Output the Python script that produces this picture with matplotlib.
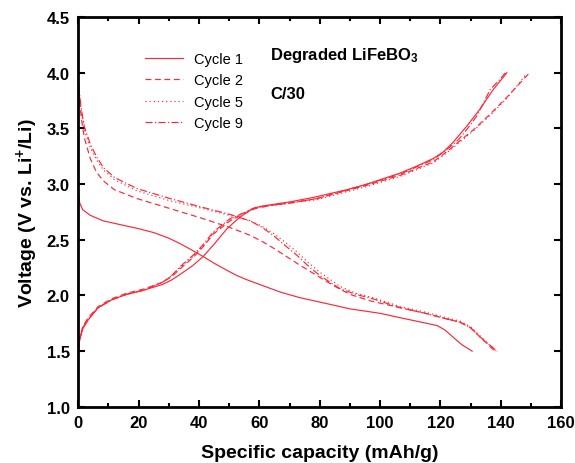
import numpy as np
import matplotlib
matplotlib.use("Agg")
import matplotlib.pyplot as plt
from matplotlib.ticker import MultipleLocator, FormatStrFormatter

plt.rcParams['font.family'] = ['Liberation Sans', 'DejaVu Sans']
plt.rcParams['mathtext.fontset'] = 'custom'
plt.rcParams['mathtext.rm'] = 'Liberation Sans:bold'
plt.rcParams['mathtext.bf'] = 'Liberation Sans:bold'
plt.rcParams['mathtext.it'] = 'Liberation Sans:italic:bold'

# ---- data (capacity mAh/g, voltage V) ----
c1_dis_x = [0, 0.5, 1.5, 4, 8.3, 15, 20, 25, 30, 33.8, 37.5, 41.4, 45, 49, 52.5, 56, 62, 67, 73.5, 83.5, 90, 100, 106.7, 112, 118.9, 121.5, 124, 127, 130.5]
c1_dis_v = [2.95, 2.83, 2.77, 2.72, 2.67, 2.63, 2.60, 2.565, 2.515, 2.465, 2.41, 2.35, 2.29, 2.23, 2.18, 2.14, 2.08, 2.03, 1.98, 1.92, 1.88, 1.84, 1.80, 1.77, 1.73, 1.69, 1.63, 1.56, 1.50]
c1_chg_x = [0, 0.5, 1.5, 3.3, 6.6, 11, 16, 22, 28, 31, 33.8, 38, 41.4, 45, 49.3, 53, 56, 58, 60.3, 65, 70, 77.8, 89, 95.7, 106.7, 112, 117.6, 121, 124, 128.7, 133, 137.5, 142]
c1_chg_v = [1.5, 1.6, 1.7, 1.78, 1.89, 1.96, 2.01, 2.05, 2.10, 2.14, 2.19, 2.27, 2.35, 2.46, 2.60, 2.69, 2.75, 2.78, 2.80, 2.82, 2.84, 2.88, 2.95, 3.00, 3.10, 3.16, 3.23, 3.29, 3.37, 3.52, 3.67, 3.85, 4.0]

c2_dis_x = [0, 0.3, 1, 2, 4, 6, 8.3, 12, 19.5, 30.5, 41.4, 50.3, 57, 61.3, 65, 69, 73, 77.8, 84.5, 90, 97, 106.7, 115, 122, 126.5, 130, 133, 138]
c2_dis_v = [4.0, 3.8, 3.6, 3.42, 3.23, 3.11, 3.03, 2.95, 2.87, 2.78, 2.69, 2.61, 2.54, 2.48, 2.42, 2.35, 2.28, 2.20, 2.09, 2.01, 1.95, 1.89, 1.84, 1.79, 1.76, 1.71, 1.63, 1.50]
c2_chg_x = [0, 0.5, 1.5, 3.3, 6.6, 11, 16, 22, 28, 31, 33.8, 38, 41.5, 44.7, 50.3, 54.7, 58.6, 64, 70, 79, 95.7, 106.7, 117.6, 123, 126.5, 131, 136.5, 142, 149.5]
c2_chg_v = [1.5, 1.62, 1.72, 1.80, 1.90, 1.97, 2.02, 2.06, 2.12, 2.17, 2.24, 2.34, 2.44, 2.55, 2.67, 2.73, 2.78, 2.81, 2.83, 2.87, 2.99, 3.08, 3.20, 3.31, 3.39, 3.49, 3.63, 3.78, 4.0]

c5_dis_x = [0, 0.3, 1, 2, 4, 6, 8.3, 12, 19.5, 30.5, 40, 50, 57, 61, 64.6, 68.5, 72.5, 76, 80, 86.8, 92, 97.7, 106.7, 115, 122, 126.5, 130, 133, 138.5]
c5_dis_v = [4.0, 3.83, 3.65, 3.49, 3.33, 3.22, 3.13, 3.04, 2.94, 2.85, 2.79, 2.72, 2.67, 2.62, 2.56, 2.48, 2.39, 2.30, 2.21, 2.08, 2.02, 1.98, 1.90, 1.85, 1.80, 1.77, 1.72, 1.64, 1.50]
c5_chg_x = [0, 0.5, 1.5, 3.3, 6.6, 11, 16, 22, 28, 31, 33.8, 38, 41.5, 44.7, 50.3, 54.7, 58.6, 64, 70, 79, 95.7, 106.7, 117.6, 123, 126.5, 131, 136.5, 142, 148.5]
c5_chg_v = [1.5, 1.61, 1.71, 1.79, 1.89, 1.96, 2.01, 2.05, 2.12, 2.18, 2.25, 2.35, 2.45, 2.56, 2.68, 2.74, 2.79, 2.81, 2.83, 2.86, 2.98, 3.07, 3.19, 3.30, 3.38, 3.48, 3.62, 3.77, 3.99]

c9_dis_x = [0, 0.3, 1, 2, 4, 6, 8.3, 12, 19.5, 30.5, 40, 50, 57, 61, 64.6, 68.5, 72.5, 76, 80, 86.8, 92, 97.7, 106.7, 115, 122, 126.5, 130, 133, 138.8]
c9_dis_v = [4.0, 3.85, 3.68, 3.52, 3.36, 3.25, 3.15, 3.06, 2.96, 2.87, 2.80, 2.73, 2.67, 2.61, 2.54, 2.45, 2.36, 2.27, 2.18, 2.06, 2.01, 1.97, 1.89, 1.84, 1.79, 1.76, 1.71, 1.63, 1.50]
c9_chg_x = [0, 0.5, 1.5, 3.3, 6.6, 11, 16, 22, 28, 31, 33.8, 38, 41.5, 44.7, 50.3, 54.7, 58.6, 64, 70, 79, 95.7, 106.7, 117.6, 123, 126, 129, 132, 136.5, 140, 141.5]
c9_chg_v = [1.5, 1.61, 1.71, 1.79, 1.89, 1.96, 2.01, 2.05, 2.12, 2.18, 2.26, 2.36, 2.46, 2.57, 2.69, 2.74, 2.79, 2.81, 2.83, 2.87, 3.00, 3.09, 3.22, 3.33, 3.40, 3.50, 3.61, 3.85, 3.95, 4.0]

color = '#fa2838'
lw = 0.85

fig = plt.figure(figsize=(5.75, 4.64), dpi=100)
ax = fig.add_axes([0.136, 0.121, 0.840, 0.840])

styles = {
    'Cycle 1': dict(ls='-'),
    'Cycle 2': dict(ls=(0, (5, 3))),
    'Cycle 5': dict(ls=(0, (1, 2.5))),
    'Cycle 9': dict(ls=(0, (6, 2, 1, 2))),
}
data = {
    'Cycle 1': (c1_dis_x, c1_dis_v, c1_chg_x, c1_chg_v),
    'Cycle 2': (c2_dis_x, c2_dis_v, c2_chg_x, c2_chg_v),
    'Cycle 5': (c5_dis_x, c5_dis_v, c5_chg_x, c5_chg_v),
    'Cycle 9': (c9_dis_x, c9_dis_v, c9_chg_x, c9_chg_v),
}
for name, (dx, dv, cx, cv) in data.items():
    ax.plot(dx, dv, color=color, lw=lw, label=name, **styles[name])
    ax.plot(cx, cv, color=color, lw=lw, **styles[name])

ax.set_xlim(0, 160)
ax.set_ylim(1.0, 4.5)
ax.xaxis.set_major_locator(MultipleLocator(20))
ax.xaxis.set_minor_locator(MultipleLocator(10))
ax.yaxis.set_major_locator(MultipleLocator(0.5))
ax.yaxis.set_major_formatter(FormatStrFormatter('%.1f'))
ax.tick_params(which='both', direction='in', top=True, right=True, width=1.5)
ax.tick_params(which='major', length=5, labelsize=12)
ax.tick_params(axis='x', which='major', pad=6)
ax.tick_params(axis='y', which='major', pad=6)
ax.tick_params(which='minor', length=3)
for lab in ax.get_xticklabels() + ax.get_yticklabels():
    lab.set_fontweight('bold')
for sp in ax.spines.values():
    sp.set_linewidth(2)

ax.set_xlabel('Specific capacity (mAh/g)', fontsize=14, fontweight='bold', labelpad=10)
ax.set_ylabel(r'Voltage (V vs. Li$^{+}$/Li)', fontsize=14, fontweight='bold', labelpad=5)

leg = ax.legend(loc='upper left', bbox_to_anchor=(0.112, 0.945), frameon=False,
                fontsize=10.5, handlelength=2.6, labelspacing=0.52, handletextpad=0.7)

ax.text(0.398, 0.905, r'Degraded LiFeBO$_3$', transform=ax.transAxes, fontsize=12,
        fontweight='bold', va='center')
ax.text(0.398, 0.803, 'C/30', transform=ax.transAxes, fontsize=12,
        fontweight='bold', va='center')

fig.savefig('out.png', dpi=100)
